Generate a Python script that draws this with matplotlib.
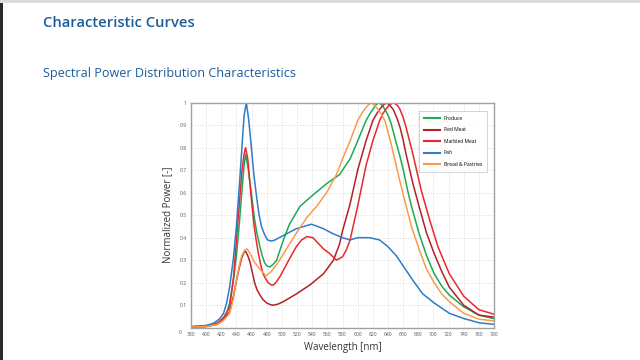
#!/usr/bin/env python3
"""
Spectral power distribution curves for the food lighting LED variants
"""

import matplotlib
matplotlib.use('Agg')
import matplotlib.pyplot as plt
from matplotlib.patches import Rectangle

# Values (wavelength in nm, normalized power)
produce_nm = [380, 400, 410, 418, 423, 427, 431, 436, 440, 444, 447, 450, 452, 455, 458,
              461, 464, 467, 471, 474, 477, 480, 484, 488, 493, 497, 502, 510, 524, 541,
              559, 576, 590, 600, 611, 616, 620, 624, 628, 632, 636, 640, 644, 651, 656,
              661, 666, 671, 681, 691, 701, 711, 721, 740, 760, 780]
produce_pw = [0.005, 0.008, 0.015, 0.026, 0.04, 0.065, 0.11, 0.21, 0.32, 0.47, 0.60, 0.72,
              0.77, 0.72, 0.64, 0.56, 0.48, 0.42, 0.36, 0.32, 0.29, 0.275, 0.27, 0.28,
              0.30, 0.34, 0.39, 0.46, 0.54, 0.59, 0.64, 0.68, 0.75, 0.83, 0.92, 0.95,
              0.97, 0.99, 1.0, 0.99, 0.97, 0.945, 0.91, 0.82, 0.76, 0.69, 0.61, 0.54,
              0.42, 0.32, 0.24, 0.185, 0.145, 0.093, 0.056, 0.04]

red_meat_nm = [380, 400, 415, 423, 431, 436, 440, 444, 447, 450, 452, 455, 458, 461, 464,
               467, 471, 475, 480, 485, 489, 495, 502, 519, 537, 555, 568, 576, 580, 585,
               590, 600, 611, 620, 625, 629, 634, 638, 642, 647, 652, 656, 660, 664, 673,
               681, 691, 701, 711, 721, 740, 760, 780]
red_meat_pw = [0.003, 0.005, 0.015, 0.035, 0.07, 0.14, 0.21, 0.27, 0.31, 0.335, 0.34, 0.32,
               0.29, 0.245, 0.20, 0.17, 0.145, 0.125, 0.11, 0.102, 0.10, 0.105, 0.116,
               0.15, 0.19, 0.24, 0.30, 0.37, 0.43, 0.49, 0.55, 0.70, 0.83, 0.92, 0.95,
               0.97, 0.99, 1.0, 0.99, 0.97, 0.93, 0.89, 0.835, 0.77, 0.64, 0.54, 0.42,
               0.33, 0.25, 0.18, 0.10, 0.056, 0.047]

marbled_nm = [380, 400, 415, 423, 431, 436, 440, 444, 447, 450, 452, 455, 457, 460, 463,
              466, 469, 472, 475, 479, 482, 486, 489, 493, 498, 509, 519, 526, 533, 541,
              548, 555, 563, 572, 580, 585, 590, 600, 611, 620, 629, 633, 637, 642, 647,
              652, 656, 660, 664, 673, 684, 695, 706, 721, 740, 760, 780]
marbled_pw = [0.003, 0.006, 0.02, 0.045, 0.09, 0.22, 0.39, 0.56, 0.69, 0.77, 0.80, 0.75,
              0.67, 0.56, 0.46, 0.39, 0.33, 0.28, 0.24, 0.215, 0.20, 0.19, 0.19, 0.205,
              0.23, 0.30, 0.36, 0.39, 0.405, 0.40, 0.375, 0.35, 0.33, 0.30, 0.315, 0.345,
              0.39, 0.54, 0.72, 0.83, 0.92, 0.95, 0.97, 0.99, 1.0, 0.99, 0.97, 0.935,
              0.89, 0.77, 0.61, 0.48, 0.36, 0.24, 0.14, 0.08, 0.06]

fish_nm = [380, 400, 410, 418, 423, 427, 431, 436, 440, 444, 447, 450, 453, 456, 460,
           463, 467, 470, 473, 477, 481, 486, 491, 502, 519, 539, 555, 566, 580, 590,
           600, 616, 629, 640, 651, 661, 673, 686, 701, 721, 740, 760, 780]
fish_pw = [0.005, 0.01, 0.02, 0.04, 0.064, 0.11, 0.18, 0.31, 0.45, 0.64, 0.79, 0.94, 1.0,
           0.93, 0.79, 0.68, 0.57, 0.50, 0.45, 0.415, 0.39, 0.385, 0.39, 0.41, 0.44, 0.46,
           0.44, 0.42, 0.40, 0.39, 0.40, 0.40, 0.39, 0.36, 0.32, 0.27, 0.21, 0.15, 0.11,
           0.064, 0.041, 0.022, 0.015]

bread_nm = [380, 400, 415, 423, 431, 436, 440, 444, 447, 451, 454, 458, 464, 471, 479,
            486, 495, 506, 519, 533, 546, 559, 572, 580, 590, 600, 605, 609, 614, 618,
            622, 627, 631, 636, 644, 653, 661, 671, 681, 691, 701, 711, 721, 740, 760, 780]
bread_pw = [0.003, 0.005, 0.015, 0.033, 0.064, 0.13, 0.21, 0.28, 0.32, 0.345, 0.35, 0.33,
            0.29, 0.26, 0.23, 0.25, 0.29, 0.35, 0.42, 0.49, 0.54, 0.60, 0.68, 0.75, 0.83,
            0.92, 0.95, 0.97, 0.99, 1.0, 0.99, 0.97, 0.95, 0.92, 0.82, 0.69, 0.58, 0.45,
            0.35, 0.26, 0.20, 0.15, 0.116, 0.064, 0.038, 0.03]

series = [
    ('Produce', produce_nm, produce_pw, '#1daa55'),
    ('Red Meat', red_meat_nm, red_meat_pw, '#b32026'),
    ('Marbled Meat', marbled_nm, marbled_pw, '#e9282d'),
    ('Fish', fish_nm, fish_pw, '#2f7cc6'),
    ('Bread & Pastries', bread_nm, bread_pw, '#f89c4c'),
]

x_ticks = list(range(380, 781, 20))
y_ticks = [0.1, 0.2, 0.3, 0.4, 0.5, 0.6, 0.7, 0.8, 0.9, 1.0]
y_tick_labels = ['0.1', '0.2', '0.3', '0.4', '0.5', '0.6', '0.7', '0.8', '0.9', '1']

page_blue = '#1c5c9c'
plt.rcParams['font.family'] = ['Open Sans', 'DejaVu Sans']

fig = plt.figure(figsize=(6.4, 3.6), dpi=100)
fig.patch.set_facecolor('white')

# page chrome: dark strip on the left edge and faint shadow on top
fig.patches.append(Rectangle((0, 0), 3 / 640, 1, transform=fig.transFigure,
                             facecolor='#2b2b2b', edgecolor='none'))
fig.patches.append(Rectangle((0, 1 - 3 / 360), 1, 3 / 360, transform=fig.transFigure,
                             facecolor='#dcdcdc', edgecolor='none'))

fig.text(43 / 640, 1 - 27 / 360, 'Characteristic Curves', color=page_blue,
         fontsize=10.6, fontweight='semibold', ha='left', va='baseline')
fig.text(43 / 640, 1 - 77 / 360, 'Spectral Power Distribution Characteristics',
         color=page_blue, fontsize=9.1, ha='left', va='baseline')

ax = fig.add_axes([191 / 640, 1 - 327.7 / 360, 303 / 640, 225 / 360])

for label, nm, pw, color in series:
    ax.plot(nm, pw, color=color, linewidth=1.1, label=label)

ax.set_xlim(380, 780)
ax.set_ylim(0, 1)
ax.set_xticks(x_ticks)
ax.set_xticklabels([str(v) for v in x_ticks])
ax.set_yticks(y_ticks)
ax.set_yticklabels(y_tick_labels)
ax.tick_params(length=0, labelsize=3.6, colors='#555555', pad=3)
ax.grid(True, color='#d9d9d9', linestyle=(0, (2, 2)), linewidth=0.5)
ax.set_axisbelow(True)
for spine in ax.spines.values():
    spine.set_color('#a0a0a0')
    spine.set_linewidth(1.0)

ax.text(-0.035, -0.012, '0', transform=ax.transAxes, fontsize=3.6,
        color='#555555', ha='center', va='top')

ax.set_xlabel('Wavelength [nm]', fontsize=7, color='#333333', labelpad=4)
ax.set_ylabel('Normalized Power [-]', fontsize=7, color='#333333', labelpad=5)

leg = ax.legend(loc='upper right', fontsize=3.6, frameon=True, fancybox=False,
                borderpad=1.0, labelspacing=1.3, handlelength=3.2,
                handletextpad=0.8, bbox_to_anchor=(0.985, 0.975))
leg.get_frame().set_edgecolor('#bfbfbf')
leg.get_frame().set_linewidth(0.6)
for line in leg.get_lines():
    line.set_linewidth(1.5)

fig.savefig('out.png', dpi=100, facecolor='white')
